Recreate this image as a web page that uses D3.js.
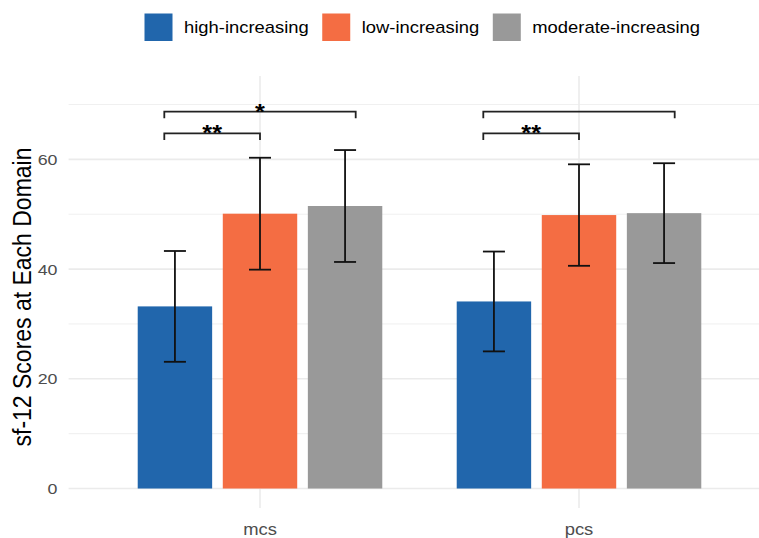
<!DOCTYPE html>
<html>
<head>
<meta charset="utf-8">
<script src="https://cdn.jsdelivr.net/npm/d3@7"></script>
<style>
  html, body { margin: 0; padding: 0; background: #fff; }
  svg { display: block; font-family: "Liberation Sans", Arial, sans-serif; }
</style>
</head>
<body>
<svg id="chart" width="759" height="538"></svg>
<script>
// SF-12 domain scores by trajectory group (mean ± SD)
const domains = ["mcs", "pcs"];
const groups = ["high-increasing", "low-increasing", "moderate-increasing"];
const colors = ["#2166ac", "#f46d43", "#999999"];

const meanHigh = [33.2, 34.1];
const meanLow = [50.1, 49.85];
const meanModerate = [51.5, 50.2];

const sdHigh = [10.1, 9.1];
const sdLow = [10.2, 9.25];
const sdModerate = [10.2, 9.1];

const yTicks = [0, 20, 40, 60];
const yMinor = [10, 30, 50, 70];

// significance brackets: domain, from group, to group, level, label
const bracketDomain = ["mcs", "mcs", "pcs", "pcs"];
const bracketFrom = [0, 0, 0, 0];
const bracketTo = [1, 2, 1, 2];
const bracketLevel = [64.75, 68.7, 64.75, 68.7];
const bracketLabel = ["**", "*", "**", ""];

const means = [meanHigh, meanLow, meanModerate];
const sds = [sdHigh, sdLow, sdModerate];

const svg = d3.select("#chart");
const stretch = 1.15; // horizontal text stretch

// Panel geometry
const panelLeft = 68.6, panelRight = 770.4, panelTop = 76, panelBottom = 508;

const x = d3.scaleLinear().domain([0.4, 2.6]).range([panelLeft, panelRight]);
const y = d3.scaleLinear().domain([-3.55, 75.2]).range([panelBottom, panelTop]);

const dodge = 0.8 / groups.length;     // slot width per group
const barW = 0.7 / groups.length;      // bar width in category units
const capW = 0.069;                    // error bar cap width
const bracketSpan = 0.3;               // bracket end offset for outer group

const catPos = d => domains.indexOf(d) + 1;
const groupOffset = g => (g - (groups.length - 1) / 2) * dodge;

// Gridlines
const grid = svg.append("g");
grid.selectAll("line.minor").data(yMinor).join("line")
  .attr("x1", panelLeft).attr("x2", panelRight)
  .attr("y1", d => y(d)).attr("y2", d => y(d))
  .attr("stroke", "#ebebeb").attr("stroke-width", 0.8);
grid.selectAll("line.major").data(yTicks).join("line")
  .attr("x1", panelLeft).attr("x2", panelRight)
  .attr("y1", d => y(d)).attr("y2", d => y(d))
  .attr("stroke", "#ebebeb").attr("stroke-width", 1.6);
grid.selectAll("line.vmajor").data(domains).join("line")
  .attr("x1", d => x(catPos(d))).attr("x2", d => x(catPos(d)))
  .attr("y1", panelTop).attr("y2", panelBottom)
  .attr("stroke", "#ebebeb").attr("stroke-width", 1.6);

// Flat records for bars
const rows = [];
domains.forEach((d, i) => {
  groups.forEach((g, j) => {
    rows.push({ domain: d, gi: j, mean: means[j][i], sd: sds[j][i] });
  });
});

// Bars
svg.append("g").selectAll("rect").data(rows).join("rect")
  .attr("x", r => x(catPos(r.domain) + groupOffset(r.gi) - barW / 2))
  .attr("width", r => x(catPos(r.domain) + groupOffset(r.gi) + barW / 2) - x(catPos(r.domain) + groupOffset(r.gi) - barW / 2))
  .attr("y", r => y(r.mean))
  .attr("height", r => y(0) - y(r.mean))
  .attr("fill", r => colors[r.gi]);

// Error bars
const eb = svg.append("g").attr("stroke", "#111").attr("stroke-width", 1.8).attr("fill", "none");
rows.forEach(r => {
  const cx = catPos(r.domain) + groupOffset(r.gi);
  const lo = r.mean - r.sd, hi = r.mean + r.sd;
  eb.append("line").attr("x1", x(cx)).attr("x2", x(cx)).attr("y1", y(lo)).attr("y2", y(hi));
  eb.append("line").attr("x1", x(cx - capW / 2)).attr("x2", x(cx + capW / 2)).attr("y1", y(lo)).attr("y2", y(lo));
  eb.append("line").attr("x1", x(cx - capW / 2)).attr("x2", x(cx + capW / 2)).attr("y1", y(hi)).attr("y2", y(hi));
});

// Significance brackets
const br = svg.append("g");
bracketDomain.forEach((d, k) => {
  const c = catPos(d);
  const endX = gi => c + (gi - (groups.length - 1) / 2) * bracketSpan;
  const x1 = x(endX(bracketFrom[k])), x2 = x(endX(bracketTo[k]));
  const yl = y(bracketLevel[k]), yt = y(bracketLevel[k] - 1.2);
  br.append("path")
    .attr("d", `M${x1},${yt}V${yl}H${x2}V${yt}`)
    .attr("fill", "none").attr("stroke", "#222").attr("stroke-width", 1.8);
  if (bracketLabel[k]) {
    br.append("text")
      .attr("transform", `translate(${(x1 + x2) / 2},${yl + 7}) scale(${stretch},1)`)
      .attr("text-anchor", "middle")
      .attr("font-size", 22).attr("font-weight", "bold").attr("fill", "#000")
      .text(bracketLabel[k]);
  }
});

// Y axis tick labels
svg.append("g").selectAll("text").data(yTicks).join("text")
  .attr("transform", d => `translate(57.5,${y(d)}) scale(${stretch},1)`)
  .attr("text-anchor", "end").attr("dy", "0.36em")
  .attr("font-size", 15.5).attr("fill", "#4d4d4d")
  .text(d => d);

// X axis labels
svg.append("g").selectAll("text").data(domains).join("text")
  .attr("transform", d => `translate(${x(catPos(d))},535) scale(${stretch},1)`)
  .attr("text-anchor", "middle")
  .attr("font-size", 16).attr("fill", "#4d4d4d")
  .text(d => d);

// Y axis title
svg.append("text")
  .attr("transform", `translate(31,297) scale(${stretch},1) rotate(-90)`)
  .attr("text-anchor", "middle")
  .attr("font-size", 23).attr("fill", "#000")
  .text("sf-12 Scores at Each Domain");

// Legend
const legend = svg.append("g");
let lx = 144.5;
groups.forEach((g, j) => {
  legend.append("rect")
    .attr("x", lx).attr("y", 13.5).attr("width", 28).attr("height", 27.5)
    .attr("fill", colors[j]);
  const t = legend.append("text")
    .attr("transform", `translate(${lx + 28 + 11.5},33) scale(${stretch},1)`)
    .attr("font-size", 16).attr("fill", "#000")
    .text(g);
  const w = t.node().getComputedTextLength() * stretch;
  lx = lx + 28 + 11.5 + w + 13.5;
});
</script>
</body>
</html>
